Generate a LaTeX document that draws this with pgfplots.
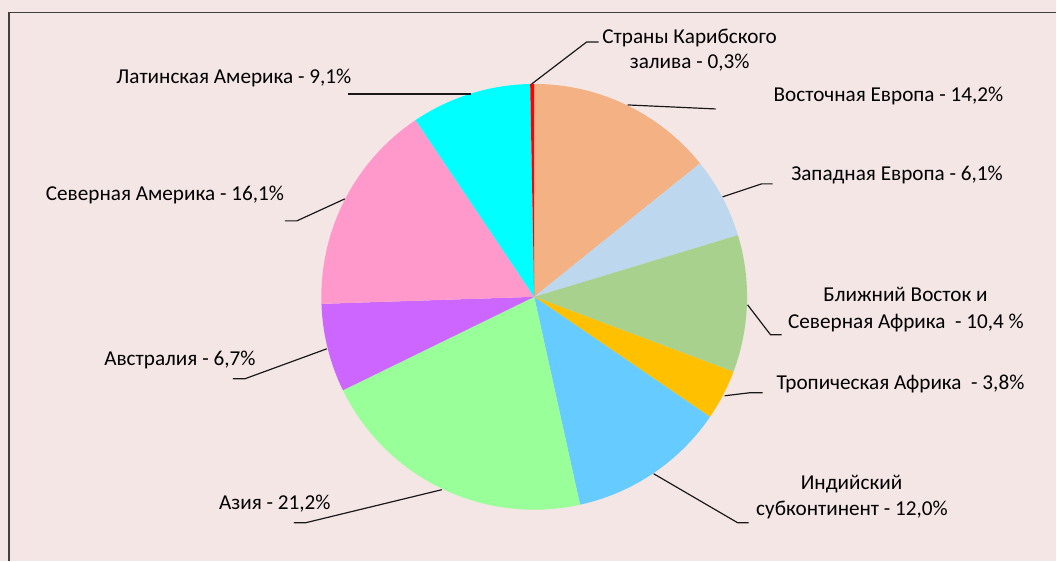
\documentclass[border=0pt]{standalone}
\usepackage{pgfplots}
\pgfplotsset{compat=1.18}
\usepackage{pgfplotstable}
\usepackage{fontspec}
\setmainfont{Carlito}

\definecolor{bgpink}{HTML}{F5E6E6}
\definecolor{cEE}{HTML}{F4B183}
\definecolor{cWE}{HTML}{BDD7EE}
\definecolor{cME}{HTML}{A9D18E}
\definecolor{cTA}{HTML}{FFC000}
\definecolor{cIN}{HTML}{66CCFF}
\definecolor{cAS}{HTML}{99FF99}
\definecolor{cAU}{HTML}{CC66FF}
\definecolor{cNA}{HTML}{FF99CC}
\definecolor{cLA}{HTML}{00FFFF}
\definecolor{cCA}{HTML}{FF0000}

% shares in %, clockwise from 12 o'clock
\pgfplotstableread{
val col
14.2 cEE
6.1  cWE
10.4 cME
3.8  cTA
12.0 cIN
21.2 cAS
6.7  cAU
16.1 cNA
9.1  cLA
0.3  cCA
}\piedata

\newcommand{\lbl}{\fontsize{21.2}{25}\selectfont}

\begin{document}
\begin{tikzpicture}
\begin{axis}[
  x=1pt, y=1pt,
  xmin=0, xmax=1057, ymin=0, ymax=561,
  y dir=reverse,
  hide axis,
  clip=false,
]
\fill[bgpink] (axis cs:0,0) rectangle (axis cs:1057,561);
\draw[black!75, line width=1.2pt] (axis cs:9,561) -- (axis cs:9,12.5) -- (axis cs:1057,12.5);

\def\acc{90}
\pgfplotsinvokeforeach{0,...,9}{
  \pgfplotstablegetelem{#1}{val}\of\piedata \let\v\pgfplotsretval
  \pgfplotstablegetelem{#1}{col}\of\piedata \let\c\pgfplotsretval
  \pgfmathsetmacro\endang{\acc-360*\v/99.9}
  \edef\temp{\noexpand\fill[\c] (axis cs:534.5,297) -- ([shift={(axis cs:534.5,297)}]\acc:213pt)
    arc[start angle=\acc, end angle=\endang, radius=213pt] -- cycle;}
  \temp
  \global\let\acc\endang
}

% leader lines
\begin{scope}[black!90, line width=1.2pt]
\draw (axis cs:532,84) -- (axis cs:587,42) -- (axis cs:599,42);
\draw (axis cs:628,105) -- (axis cs:716,109);
\draw (axis cs:723,197) -- (axis cs:762,184) -- (axis cs:773,184);
\draw (axis cs:748,305) -- (axis cs:771,335) -- (axis cs:782,335);
\draw (axis cs:725,396) -- (axis cs:750,393) -- (axis cs:763,393);
\draw (axis cs:654,474) -- (axis cs:738,523) -- (axis cs:749,523);
\draw (axis cs:442,490) -- (axis cs:306,523) -- (axis cs:294,523);
\draw (axis cs:327,349) -- (axis cs:245,379) -- (axis cs:233,379);
\draw (axis cs:345,199) -- (axis cs:297,221) -- (axis cs:285,221);
\draw (axis cs:471,94) -- (axis cs:348,94);
\end{scope}

% labels
\begin{scope}[every node/.style={font=\lbl, text=black, inner sep=0pt, anchor=base}]
\node at (axis cs:690,43.3) {Страны Карибского};
\node at (axis cs:690,68.3) {залива - 0,3\%};
\node at (axis cs:889,101.7) {Восточная Европа - 14,2\%};
\node at (axis cs:897.5,180.7) {Западная Европа - 6,1\%};
\node at (axis cs:906,301.7) {Ближний Восток и};
\node at (axis cs:906.5,328.3) {Северная Африка\ \ - 10,4 \%};
\node at (axis cs:901,389.3) {Тропическая Африка\ \ - 3,8\%};
\node at (axis cs:852,490) {Индийский};
\node at (axis cs:852.5,516) {субконтинент - 12,0\%};
\node at (axis cs:275,509.3) {Азия - 21,2\%};
\node at (axis cs:180,366) {Австралия - 6,7\%};
\node at (axis cs:165,200.7) {Северная Америка - 16,1\%};
\node at (axis cs:234,83.3) {Латинская Америка - 9,1\%};
\end{scope}
\end{axis}
\end{tikzpicture}
\end{document}
